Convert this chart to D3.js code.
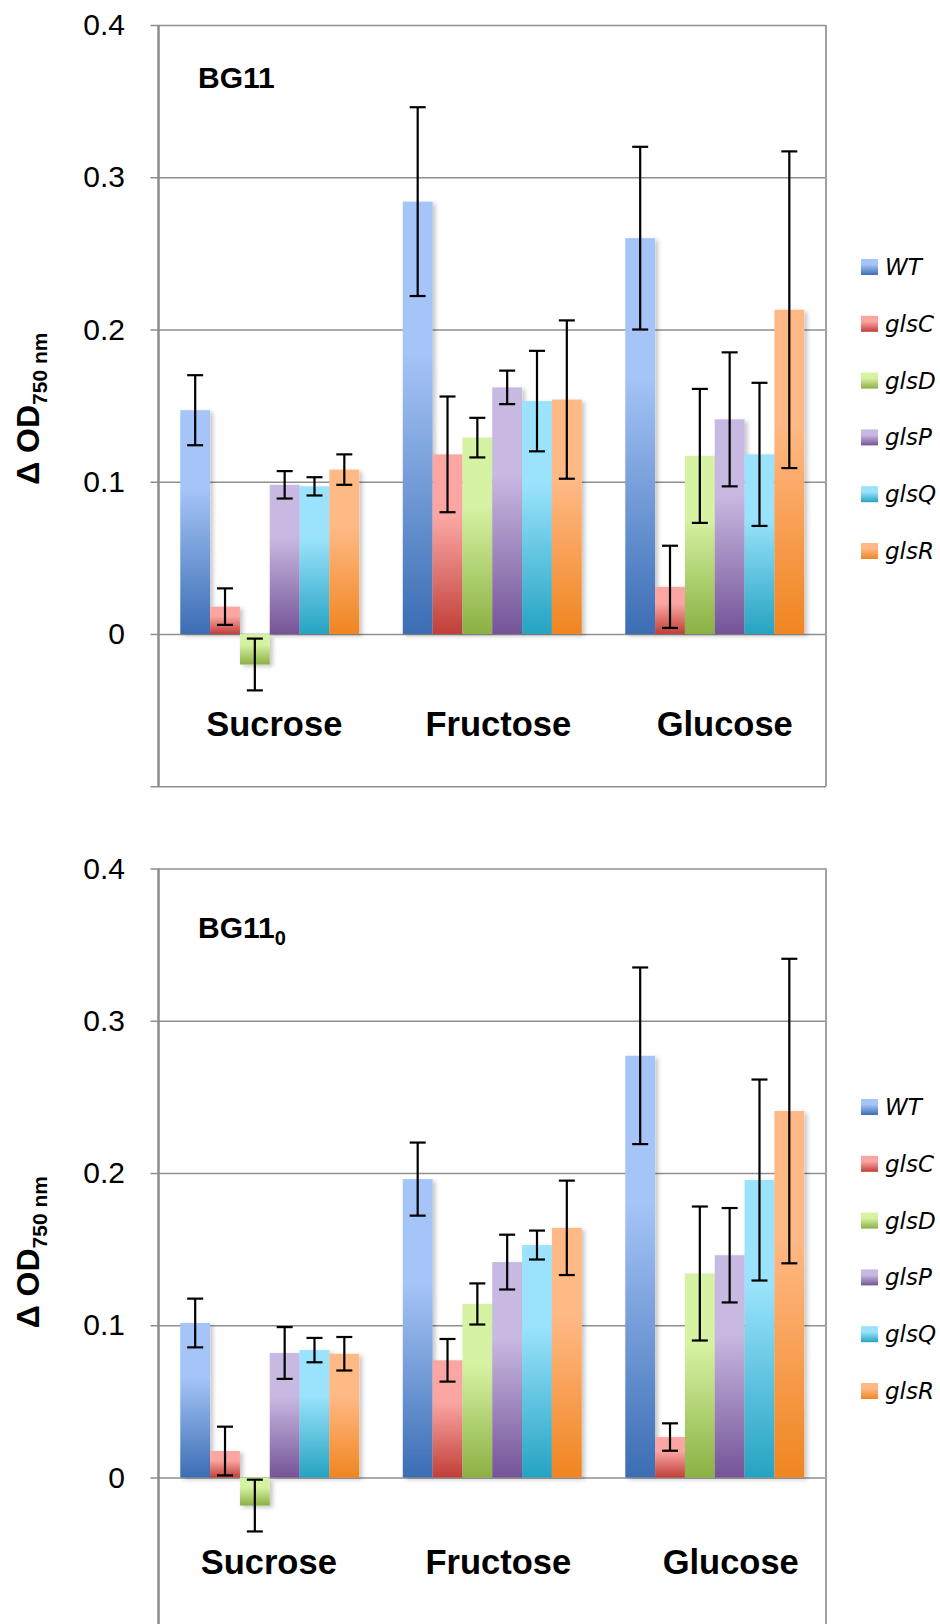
<!DOCTYPE html>
<html>
<head>
<meta charset="utf-8">
<script src="https://cdn.jsdelivr.net/npm/d3@7"></script>
<style>
  body { margin:0; background:#fff; }
  svg { display:block; }
</style>
</head>
<body>
<div id="chart"></div>
<script>
// values, one row per strain, columns follow categories
const categories = ["Sucrose", "Fructose", "Glucose"];
const strains = ["WT", "glsC", "glsD", "glsP", "glsQ", "glsR"];
const yTicks = [-0.1, 0, 0.1, 0.2, 0.3, 0.4];

const bg11Mean = [
  [0.147, 0.284, 0.260],
  [0.018, 0.118, 0.031],
  [-0.020, 0.129, 0.117],
  [0.098, 0.162, 0.141],
  [0.097, 0.153, 0.118],
  [0.108, 0.154, 0.213]
];
const bg11Err = [
  [0.023, 0.062, 0.060],
  [0.012, 0.038, 0.027],
  [0.017, 0.013, 0.044],
  [0.009, 0.011, 0.044],
  [0.006, 0.033, 0.047],
  [0.010, 0.052, 0.104]
];
const bg110Mean = [
  [0.1015, 0.196, 0.277],
  [0.0174, 0.077, 0.0266],
  [-0.0184, 0.114, 0.134],
  [0.0818, 0.1415, 0.146],
  [0.0837, 0.1527, 0.1954],
  [0.0813, 0.164, 0.2407]
];
const bg110Err = [
  [0.016, 0.024, 0.058],
  [0.016, 0.014, 0.009],
  [0.017, 0.0135, 0.044],
  [0.017, 0.018, 0.031],
  [0.008, 0.0095, 0.066],
  [0.011, 0.031, 0.100]
];

// Excel gradient fills: light at the top of each bar, dark at the bottom
const lightColors = ["#a5c4f7", "#fba6a3", "#d6f2a3", "#c8b9e2", "#9be3fc", "#ffb985"];
const darkColors  = ["#3b6db3", "#c03f39", "#8bb043", "#745497", "#25a3c2", "#f08520"];

const W = 940, H = 1624;
const left = 158.5, right = 826;
const font = "'Liberation Sans', Arial, sans-serif";

const svg = d3.select("#chart").append("svg").attr("width", W).attr("height", H);
const defs = svg.append("defs");

strains.forEach((s, i) => {
  const gr = defs.append("linearGradient").attr("id", "grad" + i)
    .attr("x1", 0).attr("y1", 0).attr("x2", 0).attr("y2", 1);
  gr.append("stop").attr("offset", "0%").attr("stop-color", lightColors[i]);
  gr.append("stop").attr("offset", "35%").attr("stop-color", lightColors[i]);
  gr.append("stop").attr("offset", "100%").attr("stop-color", darkColors[i]);
});

defs.append("filter").attr("id", "shadow")
  .attr("x", "-50%").attr("y", "-50%").attr("width", "200%").attr("height", "200%")
  .append("feDropShadow")
  .attr("dx", 3).attr("dy", 2).attr("stdDeviation", 2)
  .attr("flood-color", "#000").attr("flood-opacity", 0.22);

const x0 = d3.scaleBand().domain(categories).range([left, right]).padding(0);
const x1 = d3.scaleBand().domain(strains).range([0, x0.bandwidth()])
  .paddingInner(0).paddingOuter(0.73);

// Excel didn't center the category labels exactly, so each panel gets small nudges
function drawPanel(title, sub, means, errs, top, titleY, labelY, labelNudge, legendTop) {
  const g = svg.append("g");
  const y = d3.scaleLinear().domain([-0.1, 0.4]).range([top + 761.3, top]);

  // gridlines + outside ticks + labels, all from one axis hung on the right edge
  const ax = g.append("g")
    .attr("transform", `translate(${right},0)`)
    .call(d3.axisLeft(y).tickValues(yTicks)
      .tickSize(right - left + 8).tickPadding(25.5)
      .tickFormat(d => d < 0 ? "" : (d === 0 ? "0" : d3.format(".1f")(d))));
  ax.select(".domain").remove();
  ax.selectAll("line").attr("stroke", "#8f8f8f").attr("stroke-width", 1.5);
  ax.selectAll("text").attr("font-family", font).attr("font-size", 30).attr("fill", "#000");

  // frame
  g.append("line").attr("x1", right).attr("x2", right)
    .attr("y1", y(0.4)).attr("y2", y(-0.1))
    .attr("stroke", "#a0a0a0").attr("stroke-width", 2);
  g.append("line").attr("x1", left).attr("x2", left)
    .attr("y1", y(0.4)).attr("y2", y(-0.1))
    .attr("stroke", "#8c8c8c").attr("stroke-width", 2.5);

  // bars
  const rows = [];
  strains.forEach((s, i) => categories.forEach((c, j) => {
    rows.push({ s, i, c, v: means[i][j], e: errs[i][j] });
  }));

  g.append("g").selectAll("rect").data(rows).enter().append("rect")
    .attr("x", d => x0(d.c) + x1(d.s))
    .attr("y", d => Math.min(y(d.v), y(0)))
    .attr("width", x1.bandwidth())
    .attr("height", d => Math.abs(y(d.v) - y(0)))
    .attr("fill", d => `url(#grad${d.i})`)
    .attr("filter", "url(#shadow)");

  // error bars
  const eb = g.append("g").attr("stroke", "#000").attr("stroke-width", 2.2);
  const cx = d => x0(d.c) + x1(d.s) + x1.bandwidth() / 2;
  eb.selectAll(".stem").data(rows).enter().append("line")
    .attr("x1", cx).attr("x2", cx)
    .attr("y1", d => y(d.v - d.e)).attr("y2", d => y(d.v + d.e));
  [-1, 1].forEach(k => {
    eb.selectAll(null).data(rows).enter().append("line")
      .attr("x1", d => cx(d) - 8).attr("x2", d => cx(d) + 8)
      .attr("y1", d => y(d.v + k * d.e)).attr("y2", d => y(d.v + k * d.e));
  });

  // category labels under the bars
  g.append("g").selectAll("text").data(categories).enter().append("text")
    .attr("x", (d, j) => x0(d) + x0.bandwidth() / 2 + labelNudge[j])
    .attr("y", labelY)
    .attr("text-anchor", "middle")
    .attr("font-family", font).attr("font-size", 34.5).attr("font-weight", "bold")
    .text(d => d);

  // panel title
  const t = g.append("text").attr("x", 198).attr("y", titleY)
    .attr("font-family", font).attr("font-size", 30).attr("font-weight", "bold")
    .text(title);
  if (sub) t.append("tspan").attr("font-size", 20).attr("dy", 7).text(sub);

  // y axis title
  const yt = g.append("text")
    .attr("transform", `translate(39,${(y(0.4) + y(-0.1)) / 2 + 3}) rotate(-90)`)
    .attr("text-anchor", "middle")
    .attr("font-family", font).attr("font-weight", "bold");
  yt.append("tspan").attr("font-size", 32).text("Δ OD");
  yt.append("tspan").attr("font-size", 21).attr("dy", 8).text("750 nm");

  // legend
  const lg = g.append("g");
  strains.forEach((s, i) => {
    const ly = legendTop + i * 56.8;
    lg.append("rect").attr("x", 861).attr("y", ly - 8).attr("width", 17).attr("height", 16)
      .attr("fill", `url(#grad${i})`);
    lg.append("text").attr("x", 885).attr("y", ly + 8)
      .attr("font-family", "'DejaVu Sans', Verdana, sans-serif")
      .attr("font-style", "italic").attr("font-size", 23)
      .text(s);
  });
}

drawPanel("BG11", "", bg11Mean, bg11Err, 25, 88, 736, [4.5, 6, 10], 267);
drawPanel("BG11", "0", bg110Mean, bg110Err, 868.5, 937.5, 1574, [-1, 6, 16], 1107);
</script>
</body>
</html>
